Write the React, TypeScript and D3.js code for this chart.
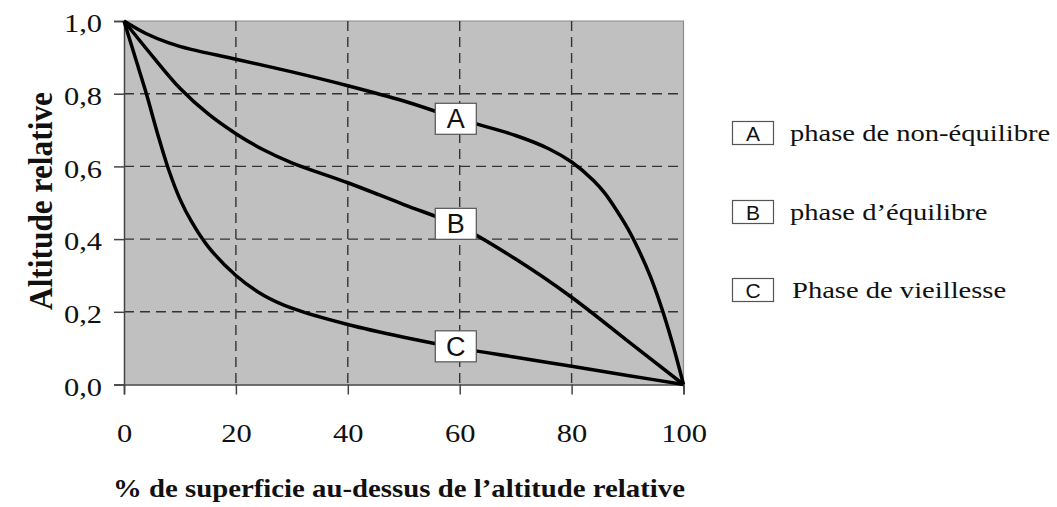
import React, { useRef, useEffect } from 'react';
import * as d3 from 'd3';

// curve A: phase de non-équilibre
const xA = [0, 4, 8, 12, 20, 30, 40, 50, 60, 70, 76, 80, 84, 86, 88, 90, 92, 94, 96, 98, 100];
const yA = [1.0, 0.965, 0.94, 0.922, 0.895, 0.86, 0.822, 0.78, 0.73, 0.685, 0.648, 0.612, 0.56, 0.525, 0.48, 0.43, 0.37, 0.3, 0.215, 0.115, 0.0];
// curve B: phase d'équilibre
const xB = [0, 5, 10, 15, 20, 25, 30, 40, 50, 60, 70, 80, 90, 100];
const yB = [1.0, 0.905, 0.815, 0.745, 0.69, 0.645, 0.61, 0.555, 0.495, 0.435, 0.345, 0.24, 0.12, 0.0];
// curve C: phase de vieillesse
const xC = [0, 2, 4, 6, 8, 10, 12, 15, 20, 25, 30, 40, 50, 60, 70, 80, 90, 100];
const yC = [1.0, 0.9, 0.8, 0.69, 0.59, 0.51, 0.45, 0.38, 0.3, 0.245, 0.21, 0.165, 0.13, 0.1, 0.075, 0.05, 0.025, 0.0];

const curveNames = ['A', 'B', 'C'];
const legendLabels = ['phase de non-équilibre', 'phase d’équilibre', 'Phase de vieillesse'];
// where the letter boxes sit on each curve
const labelX = [59.3, 59.3, 59.3];
const labelY = [0.731, 0.442, 0.105];

const xTicks = [0, 20, 40, 60, 80, 100];
const yTicks = [0, 0.2, 0.4, 0.6, 0.8, 1.0];

const xTitle = '% de superficie au-dessus de l’altitude relative';
const yTitle = 'Altitude relative';

const W = 1057;
const H = 507;

const App: React.FC = () => {
  const svgRef = useRef<SVGSVGElement>(null);

  useEffect(() => {
    if (!svgRef.current) return;
    const svg = d3.select(svgRef.current);
    svg.selectAll('*').remove();

    const serif = '"Liberation Serif", "Times New Roman", serif';
    const sans = '"Liberation Sans", Arial, sans-serif';

    // the scan is a bit wider than tall, so the text is stretched sideways
    const stretch = (sel: d3.Selection<any, any, any, any>, k: number) => {
      sel.each(function () {
        const t = this as SVGTextElement;
        const w = t.getComputedTextLength();
        d3.select(t).attr('textLength', w * k).attr('lengthAdjust', 'spacingAndGlyphs');
      });
    };

    const x = d3.scaleLinear().domain([0, 100]).range([124, 683.5]);
    const y = d3.scaleLinear().domain([0, 1]).range([384.5, 21]);

    // plot background
    svg.append('rect')
      .attr('x', x(0)).attr('y', y(1))
      .attr('width', x(100) - x(0)).attr('height', y(0) - y(1))
      .style('fill', '#c0c0c0');

    // top and right border
    svg.append('path')
      .attr('d', `M${x(0)},${y(1)}H${x(100)}V${y(0)}`)
      .style('fill', 'none').style('stroke', '#8a8a8a').style('stroke-width', 1.2);

    // dashed grid
    const grid = svg.append('g');
    xTicks.filter(t => t > 0 && t < 100).forEach(t => {
      grid.append('line')
        .attr('x1', x(t)).attr('x2', x(t)).attr('y1', y(1)).attr('y2', y(0))
        .style('stroke', '#333').style('stroke-width', 1.4).style('stroke-dasharray', '10,6');
    });
    yTicks.filter(t => t > 0 && t < 1).forEach(t => {
      grid.append('line')
        .attr('x1', x(0)).attr('x2', x(100)).attr('y1', y(t)).attr('y2', y(t))
        .style('stroke', '#333').style('stroke-width', 1.4).style('stroke-dasharray', '10,6');
    });

    // axes
    const fmt = (d: number) => d.toFixed(1).replace('.', ',');
    const yAxis = svg.append('g')
      .attr('transform', `translate(${x(0)},0)`)
      .call(d3.axisLeft(y).tickValues(yTicks).tickSize(10).tickPadding(12).tickFormat(d => fmt(d as number)));
    const xAxis = svg.append('g')
      .attr('transform', `translate(0,${y(0)})`)
      .call(d3.axisBottom(x).tickValues(xTicks).tickSize(10).tickPadding(30).tickFormat(d => String(d)));
    [xAxis, yAxis].forEach(a => {
      a.select('.domain').style('stroke', '#444').style('stroke-width', 1.5);
      a.selectAll('.tick line').style('stroke', '#444').style('stroke-width', 1.5);
      a.selectAll('text')
        .style('font-family', serif).style('font-size', '25px').style('fill', '#111');
    });
    yAxis.selectAll('text').attr('dy', '0.43em');
    stretch(xAxis.selectAll('text'), 1.22);
    stretch(yAxis.selectAll('text'), 1.22);

    // curves
    const line = d3.line<[number, number]>()
      .x(d => x(d[0])).y(d => y(d[1]))
      .curve(d3.curveCatmullRom.alpha(0.5));
    const series = [
      d3.zip(xA, yA) as [number, number][],
      d3.zip(xB, yB) as [number, number][],
      d3.zip(xC, yC) as [number, number][],
    ];
    series.forEach(s => {
      svg.append('path')
        .attr('d', line(s))
        .style('fill', 'none').style('stroke', '#000').style('stroke-width', 3.5)
        .style('stroke-linejoin', 'round');
    });

    // letter boxes on the curves
    curveNames.forEach((n, i) => {
      const cx = x(labelX[i]);
      const cy = y(labelY[i]);
      svg.append('rect')
        .attr('x', cx - 20.5).attr('y', cy - 15.5).attr('width', 41).attr('height', 31)
        .style('fill', '#fff').style('stroke', '#555').style('stroke-width', 1.2);
      svg.append('text')
        .attr('x', cx).attr('y', cy + 9.5)
        .attr('text-anchor', 'middle')
        .style('font-family', sans).style('font-size', '27px').style('fill', '#111')
        .text(n);
    });

    // legend
    const legendY = [133, 212, 290];
    curveNames.forEach((n, i) => {
      const ly = legendY[i];
      svg.append('rect')
        .attr('x', 732.5).attr('y', ly - 11.5).attr('width', 41).attr('height', 23)
        .style('fill', '#fff').style('stroke', '#555').style('stroke-width', 1.2);
      svg.append('text')
        .attr('x', 753).attr('y', ly + 7.5)
        .attr('text-anchor', 'middle')
        .style('font-family', sans).style('font-size', '21px').style('fill', '#111')
        .text(n);
      const t = svg.append('text')
        .attr('x', i === 2 ? 792 : 790).attr('y', ly + 8)
        .style('font-family', serif).style('font-size', '24px').style('fill', '#111')
        .text(legendLabels[i]);
      stretch(t, 1.19);
    });

    // axis titles
    svg.append('text')
      .attr('x', 113).attr('y', 497)
      .attr('textLength', 572).attr('lengthAdjust', 'spacingAndGlyphs')
      .style('font-family', serif).style('font-size', '25px').style('font-weight', 'bold').style('fill', '#111')
      .text(xTitle);
    const yt = svg.append('text')
      .attr('transform', 'translate(52,201) rotate(-90) scale(1,1.22)')
      .attr('text-anchor', 'middle')
      .style('font-family', serif).style('font-size', '28px').style('font-weight', 'bold').style('fill', '#111')
      .text(yTitle);
    yt.attr('textLength', 218).attr('lengthAdjust', 'spacingAndGlyphs');
  }, []);

  return (
    <svg
      ref={svgRef}
      width={W}
      height={H}
      style={{ position: 'absolute', left: 0, top: 0, background: '#fff' }}
    />
  );
};

export default App;
